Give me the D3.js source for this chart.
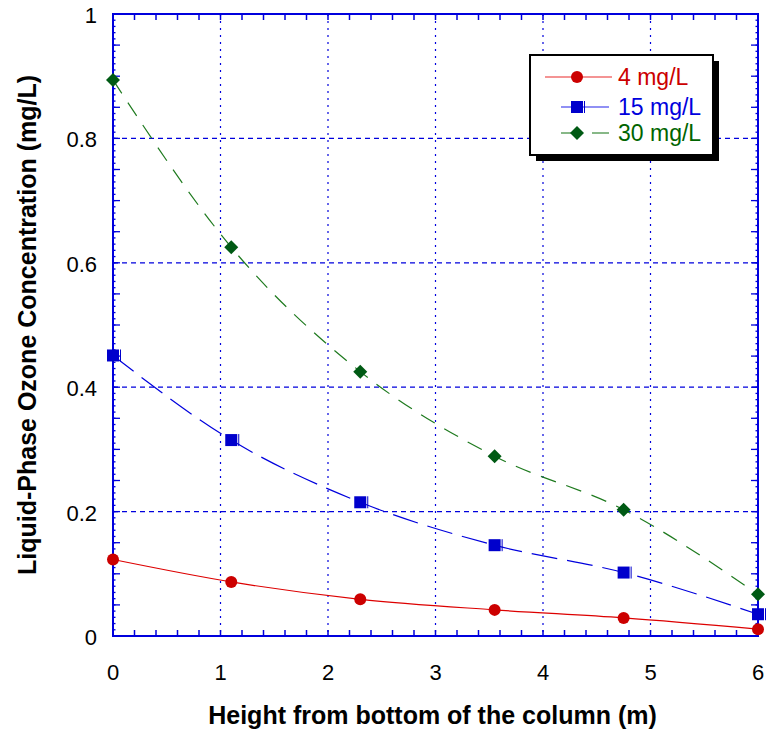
<!DOCTYPE html>
<html>
<head>
<meta charset="utf-8">
<script src="https://cdn.jsdelivr.net/npm/d3@7"></script>
<style>
  body { margin: 0; background: #fff; }
  svg { font-family: "Liberation Sans", Arial, sans-serif; }
</style>
</head>
<body>
<svg id="chart" width="766" height="732"></svg>
<script>
// values
var heights = [0, 1.1, 2.3, 3.55, 4.75, 6];
var conc4 = [0.123, 0.087, 0.059, 0.042, 0.029, 0.011];
var conc15 = [0.451, 0.315, 0.215, 0.146, 0.102, 0.035];
var conc30 = [0.894, 0.625, 0.425, 0.289, 0.203, 0.067];
var seriesNames = ["4 mg/L", "15 mg/L", "30 mg/L"];
var xTicks = [0, 1, 2, 3, 4, 5, 6];
var yTicks = [0, 0.2, 0.4, 0.6, 0.8, 1];

const margin = {top: 14, right: 8, bottom: 96, left: 113};
var width = 766 - margin.left - margin.right;
var height = 732 - margin.top - margin.bottom;

var svg = d3.select("#chart");
var g = svg.append("g").attr("transform", "translate(" + margin.left + "," + margin.top + ")");

var x = d3.scaleLinear().domain([0, 6]).range([0, width]);
var y = d3.scaleLinear().domain([0, 1]).range([height, 0]);

var axisBlue = "#0000dd";

// grid
g.append("g").selectAll("line").data(xTicks.slice(1, -1)).join("line")
  .attr("x1", d => x(d)).attr("x2", d => x(d)).attr("y1", 0).attr("y2", height)
  .attr("stroke", axisBlue).attr("stroke-width", 1.2).attr("stroke-dasharray", "2,5");
g.append("g").selectAll("line").data(yTicks.slice(1, -1)).join("line")
  .attr("y1", d => y(d)).attr("y2", d => y(d)).attr("x1", 0).attr("x2", width)
  .attr("stroke", axisBlue).attr("stroke-width", 1.2).attr("stroke-dasharray", "5,4");

// frame ticks (inward)
var xMinor = d3.range(0, 6.001, 0.2);
var yMid = d3.range(0, 1.001, 0.05);
var ySmall = d3.range(0, 1.001, 0.01);

function ticksX(vals, yPos, dir, len) {
  g.append("g").selectAll("line").data(vals).join("line")
    .attr("x1", d => x(d)).attr("x2", d => x(d))
    .attr("y1", yPos).attr("y2", yPos + dir * len)
    .attr("stroke", axisBlue).attr("stroke-width", 1.5);
}
function ticksY(vals, xPos, dir, len) {
  g.append("g").selectAll("line").data(vals).join("line")
    .attr("y1", d => y(d)).attr("y2", d => y(d))
    .attr("x1", xPos).attr("x2", xPos + dir * len)
    .attr("stroke", axisBlue).attr("stroke-width", 1.3);
}
ticksX(xMinor, height, -1, 6);
ticksX(xMinor, 0, 1, 6);
ticksY(yMid, 0, 1, 7);
ticksY(yMid, width, -1, 7);
ticksY(ySmall, 0, 1, 2.5);
ticksY(ySmall, width, -1, 2.5);

g.append("rect").attr("width", width).attr("height", height)
  .attr("fill", "none").attr("stroke", axisBlue).attr("stroke-width", 2);

// tick labels
g.append("g").selectAll("text").data(xTicks).join("text")
  .attr("x", d => x(d)).attr("y", height + 44)
  .attr("text-anchor", "middle").style("font-size", "22px").text(d => d);
g.append("g").selectAll("text").data(yTicks).join("text")
  .attr("x", -16).attr("y", d => y(d) + 9)
  .attr("text-anchor", "end").style("font-size", "22px").text(d => d);

// axis titles
svg.append("text").attr("x", margin.left + width / 2 - 3).attr("y", 724)
  .attr("text-anchor", "middle").style("font-size", "25px").attr("font-weight", "bold")
  .text("Height from bottom of the column (m)");
svg.append("text").attr("transform", "translate(36," + (margin.top + height / 2) + ") rotate(-90)")
  .attr("text-anchor", "middle").style("font-size", "25px").attr("font-weight", "bold")
  .text("Liquid-Phase Ozone Concentration (mg/L)");

// series
var series = [
  {name: seriesNames[0], vals: conc4, color: "#dd0000", text: "#cc0000", dash: null, marker: "circle"},
  {name: seriesNames[1], vals: conc15, color: "#0000dd", text: "#0000dd", dash: "26,10", marker: "square"},
  {name: seriesNames[2], vals: conc30, color: "#1e7a1e", text: "#006400", dash: "16,11", marker: "diamond"}
];
var markerFill = {circle: "#cc0000", square: "#0000cc", diamond: "#005a14"};

var line = d3.line().x(d => x(d[0])).y(d => y(d[1])).curve(d3.curveMonotoneX);

series.forEach(function(s) {
  var pts = heights.map((h, i) => [h, s.vals[i]]);
  g.append("path").datum(pts).attr("d", line)
    .attr("fill", "none").attr("stroke", s.color).attr("stroke-width", 1.2)
    .attr("stroke-dasharray", s.dash);
});

function drawMarker(sel, type, cx, cy) {
  if (type == "circle") {
    sel.append("circle").attr("cx", cx).attr("cy", cy).attr("r", 6).attr("fill", markerFill.circle);
  } else if (type == "square") {
    sel.append("rect").attr("x", cx - 6).attr("y", cy - 6).attr("width", 12).attr("height", 12)
      .attr("fill", markerFill.square);
    sel.append("line").attr("x1", cx + 7.5).attr("x2", cx + 7.5).attr("y1", cy - 6).attr("y2", cy + 6)
      .attr("stroke", markerFill.square).attr("stroke-width", 1);
  } else {
    sel.append("path").attr("d", "M" + cx + "," + (cy - 7) + "L" + (cx + 7) + "," + cy + "L" + cx + "," + (cy + 7) + "L" + (cx - 7) + "," + cy + "Z")
      .attr("fill", markerFill.diamond);
  }
}

series.forEach(function(s) {
  var mg = g.append("g");
  heights.forEach((h, i) => drawMarker(mg, s.marker, x(h), y(s.vals[i])));
});

// legend
var lg = svg.append("g").attr("transform", "translate(530,55)");
lg.append("rect").attr("x", 6).attr("y", 6).attr("width", 183).attr("height", 100).attr("fill", "#000");
lg.append("rect").attr("width", 183).attr("height", 100).attr("fill", "#fff")
  .attr("stroke", "#000").attr("stroke-width", 2);
var rowY = [22, 52, 78];
series.forEach(function(s, i) {
  var ly = rowY[i];
  if (i == 0) {
    lg.append("line").attr("x1", 15).attr("x2", 82).attr("y1", ly).attr("y2", ly)
      .attr("stroke", "#f07070").attr("stroke-width", 1.5);
  } else {
    lg.append("line").attr("x1", 31).attr("x2", 45).attr("y1", ly).attr("y2", ly)
      .attr("stroke", i == 1 ? "#6b6bf0" : "#5fa05f").attr("stroke-width", 1.5);
    lg.append("line").attr("x1", i == 1 ? 52 : 62).attr("x2", 79).attr("y1", ly).attr("y2", ly)
      .attr("stroke", i == 1 ? "#6b6bf0" : "#5fa05f").attr("stroke-width", 1.5);
  }
  drawMarker(lg, s.marker, 47, ly);
  lg.append("text").attr("x", 88).attr("y", ly + 8).style("font-size", "23px")
    .attr("fill", s.text).text(s.name);
});
</script>
</body>
</html>
